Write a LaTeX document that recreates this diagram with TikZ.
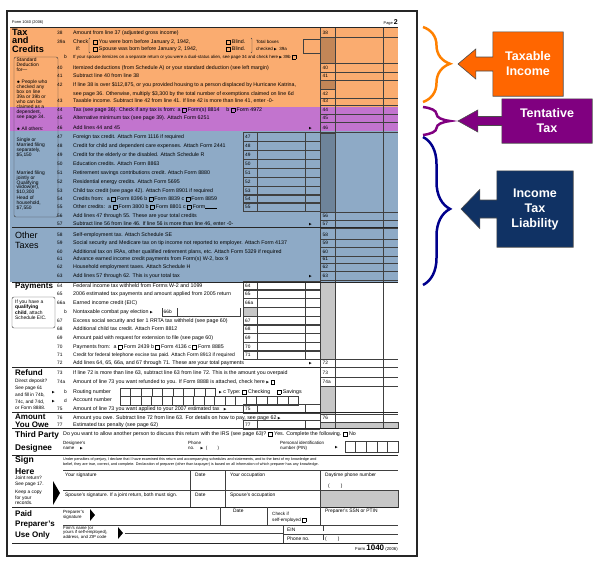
\documentclass[tikz,border=0pt]{standalone}
\usepackage{fontspec}
\setmainfont{Liberation Sans}
\newfontfamily\symfont{DejaVu Sans}
\usetikzlibrary{positioning, calc, backgrounds, decorations.pathreplacing}

\definecolor{overorange}{RGB}{250,172,112}
\definecolor{overpurple}{RGB}{194,116,206}
\definecolor{overblue}{RGB}{142,170,198}
\definecolor{boxorange}{RGB}{255,102,0}
\definecolor{boxpurple}{RGB}{128,0,128}
\definecolor{boxblue}{RGB}{16,50,100}
\definecolor{braceorange}{RGB}{255,128,0}
\definecolor{bracepurple}{RGB}{128,0,128}
\definecolor{braceblue}{RGB}{0,0,140}

\newcommand{\rowfont}{\fontsize{5.3}{6}\selectfont}
\newcommand{\numfont}{\fontsize{4.8}{6}\selectfont}
\newcommand{\notefont}{\fontsize{4.9}{5.5}\selectfont}
\newcommand{\formarrow}{{\symfont\fontsize{3.5}{4}\selectfont ▶}}
\newcommand{\cbx}{\raisebox{-0.4pt}{\setlength{\fboxsep}{0pt}\setlength{\fboxrule}{0.35pt}\fbox{\rule{0pt}{3.6pt}\hspace{3.6pt}}}}
% arrow of a callout: box, tip, head base offset, head half, shaft half, colour
\newcommand{\pointer}[6]{%
  \draw[calloutline, fill=#6] (#1.north west) -- (#1.north east) -- (#1.south east) -- (#1.south west)
    -- ($(#1.west)+(0,#5)$) -- ($(#1.west)+(-#3,#5)$) -- ($(#1.west)+(-#3,#4)$) -- (#2)
    -- ($(#1.west)+(-#3,-#4)$) -- ($(#1.west)+(-#3,-#5)$) -- ($(#1.west)+(0,-#5)$) -- cycle;}

\tikzset{
  row/.style={anchor=west, inner sep=0pt, font=\rowfont, text height=3.8pt, text depth=1.1pt},
  num/.style={anchor=west, inner sep=0pt, font=\numfont, text height=3.5pt, text depth=0.5pt},
  note/.style={anchor=north west, inner sep=0pt, align=left, font=\notefont},
  tiny note/.style={note, font=\fontsize{4.5}{4.8}\selectfont},
  title/.style={anchor=north west, inner sep=0pt, align=left, font=\bfseries\fontsize{8}{9}\selectfont},
  rule/.style={line width=0.45pt, black!75},
  heavy/.style={line width=0.9pt, black!85},
  greycell/.style={fill=black, fill opacity=0.22, draw=black!75, line width=0.45pt},
  callout/.style={text=white, font=\bfseries\fontsize{12.5}{15}\selectfont, align=center, inner sep=0pt},
  calloutline/.style={draw=black!70, line width=0.6pt},
  bracebig/.style={decorate, decoration={brace, amplitude=27pt, aspect=#1}, line width=2.5pt}
}

\begin{document}
\begin{tikzpicture}[x=1pt, y=-1pt]
\useasboundingbox (0,0) rectangle (600,565);

% colour bands over the form
\fill[overorange] (10,27) rectangle (398,107);
\fill[overpurple] (10,107) rectangle (398,131);
\fill[overblue] (10,131) rectangle (398,282);

% shaded cells
\foreach \a/\b/\c/\d in {320/37/335/63, 320/80/335/89, 320/133/335/212, 320/282/335/359,
    243/307/257/316, 320/386/335/414, 320/422/398/428, 320/490/398/507}
  \filldraw[greycell] (\a,\b) rectangle (\c,\d);

% column rules
\foreach \x in {320,335,383} \draw[rule] (\x,28) -- (\x,428);
\foreach \x in {243,257,305} {
  \draw[rule] (\x,133) -- (\x,212);
  \draw[rule] (\x,282) -- (\x,359);
  \draw[rule] (\x,405) -- (\x,412);
  \draw[rule] (\x,421) -- (\x,428);
}
\foreach \y in {63,212,359,414} \draw[rule] (320,\y) -- (398,\y);

% section rules
\draw[heavy] (10,27.5) -- (398,27.5);
\foreach \y in {227,282,367,412,428,455,507,543} \draw[heavy] (12,\y) -- (398,\y);

% header
\node[note, anchor=west, font=\fontsize{3.9}{4}\selectfont] (hform) at (12,22) {Form 1040 (2006)};
\node[note, anchor=east, font=\fontsize{3.9}{4}\selectfont] (hpage) at (398,22) {Page {\fontsize{7}{7}\selectfont\bfseries 2}};

% line numbers of the right column
\foreach \y/\n in {33/38, 68/40, 76/41, 94/42, 101/43, 110/44, 118/45, 128/46, 216/56, 224/57,
    235/58, 243/59, 252/60, 259/61, 267/62, 276/63, 363/72, 373/73, 382/74a, 418/76} {
  \node[num] (r\n) at (322.5,\y) {\n};
  \draw[rule] (320,\y+4.3) -- (398,\y+4.3);
}

% line numbers of the inner column
\foreach \y/\n in {137/47, 146/48, 155/49, 164/50, 173/51, 182/52, 191/53, 199/54, 207/55,
    286/64, 294/65, 303/66a, 321/67, 329/68, 338/69, 347/70, 355/71, 409/75, 425/77} {
  \node[num] (b\n) at (245,\y) {\n};
  \draw[rule] (243,\y-4.3) -- (320,\y-4.3);
  \draw[rule] (243,\y+4.3) -- (320,\y+4.3);
}

% form lines
\foreach \y/\n/\txt in {
  33/38/{Amount from line 37 (adjusted gross income)},
  42/39a/{Check},
  68/40/{Itemized deductions (from Schedule A) or your standard deduction (see left margin)},
  76/41/{Subtract line 40 from line 38},
  85/42/{If line 38 is over \$112,875, or you provided housing to a person displaced by Hurricane Katrina,},
  101/43/{Taxable income. Subtract line 42 from line 41. If line 42 is more than line 41, enter -0-},
  110/44/{Tax (see page 36). Check if any tax is from: a \cbx\ Form(s) 8814 \quad b \cbx\ Form 4972},
  118/45/{Alternative minimum tax (see page 39). Attach Form 6251},
  128/46/{Add lines 44 and 45},
  137/47/{Foreign tax credit. Attach Form 1116 if required},
  146/48/{Credit for child and dependent care expenses. Attach Form 2441},
  155/49/{Credit for the elderly or the disabled. Attach Schedule R},
  164/50/{Education credits. Attach Form 8863},
  173/51/{Retirement savings contributions credit. Attach Form 8880},
  182/52/{Residential energy credits. Attach Form 5695},
  191/53/{Child tax credit (see page 42). Attach Form 8901 if required},
  199/54/{Credits from: \ a \cbx\ Form 8396 b \cbx\ Form 8839 c \cbx\ Form 8859},
  207/55/{Other credits: \ a \cbx\ Form 3800 b \cbx\ Form 8801 c \cbx\ Form\rule[-0.4pt]{12pt}{0.3pt}},
  216/56/{Add lines 47 through 55. These are your total credits},
  224/57/{Subtract line 56 from line 46. If line 56 is more than line 46, enter -0-},
  235/58/{Self-employment tax. Attach Schedule SE},
  243/59/{Social security and Medicare tax on tip income not reported to employer. Attach Form 4137},
  252/60/{Additional tax on IRAs, other qualified retirement plans, etc. Attach Form 5329 if required},
  259/61/{Advance earned income credit payments from Form(s) W-2, box 9},
  267/62/{Household employment taxes. Attach Schedule H},
  276/63/{Add lines 57 through 62. This is your total tax},
  286/64/{Federal income tax withheld from Forms W-2 and 1099},
  294/65/{2006 estimated tax payments and amount applied from 2005 return},
  303/66a/{Earned income credit (EIC)},
  321/67/{Excess social security and tier 1 RRTA tax withheld (see page 60)},
  329/68/{Additional child tax credit. Attach Form 8812},
  338/69/{Amount paid with request for extension to file (see page 60)},
  347/70/{Payments from: \ a \cbx\ Form 2439 b \cbx\ Form 4136 c \cbx\ Form 8885},
  355/71/{\fontsize{5}{6}\selectfont Credit for federal telephone excise tax paid. Attach Form 8913 if required},
  363/72/{Add lines 64, 65, 66a, and 67 through 71. These are your total payments},
  373/73/{If line 72 is more than line 63, subtract line 63 from line 72. This is the amount you overpaid},
  382/74a/{Amount of line 73 you want refunded to you. If Form 8888 is attached, check here \formarrow\ \cbx},
  409/75/{Amount of line 73 you want applied to your 2007 estimated tax \enspace\formarrow},
  418/76/{Amount you owe. Subtract line 72 from line 63. For details on how to pay, see page 62 \formarrow},
  425/77/{Estimated tax penalty (see page 62)}} {
  \node[num] (n\n) at (57,\y) {\n};
  \node[row] (t\n) at (73,\y) {\txt};
}
\foreach \y in {128,224,276,363} \node[num] (a\y) at (309,\y) {\formarrow};

% line 39
\node[row] (t39if) at (76,49) {if:};
\draw[rule] (90,38) -- (89,39) -- (89,52) -- (90,53);
\node[row] (t39you) at (93,42) {\cbx\ You were born before January 2, 1942,};
\node[row] (t39sp) at (93,49) {\cbx\ Spouse was born before January 2, 1942,};
\node[row] (t39bl) at (226,42) {\cbx\ Blind.};
\node[row] (t39bs) at (226,49) {\cbx\ Blind.};
\draw[rule] (251,38) -- (252,39) -- (252,52) -- (251,53);
\node[row, font=\fontsize{4.5}{5}\selectfont] (t39tot) at (256,42) {Total boxes};
\node[row, font=\fontsize{4.5}{5}\selectfont] (t39chk) at (256,49) {checked \formarrow\ \ 39a};
\draw[rule] (303,39) rectangle (320,53);
\node[num] (n39b) at (64,57) {b};
\node[row, font=\fontsize{4.4}{5}\selectfont] (t39b) at (73,57)
  {If your spouse itemizes on a separate return or you were a dual-status alien, see page 34 and check here \formarrow\ 39b \cbx};
\node[row] (t42b) at (73,94) {see page 36. Otherwise, multiply \$3,300 by the total number of exemptions claimed on line 6d};

% line 66b
\node[num] (n66b) at (64,312) {b};
\node[row] (t66b) at (73,312) {Nontaxable combat pay election \formarrow};
\draw[rule] (162,308) -- (162,316) -- (240,316) -- (240,308);
\draw[rule] (177,308) -- (177,316);
\node[num] (b66b) at (163.5,312) {66b};

% lines 74b to 74d
\node[num] (a74b) at (52,392) {\formarrow};
\node[num] (n74b) at (64,392) {b};
\node[row] (t74b) at (73,392) {Routing number};
\foreach \i in {0,...,8} \draw[rule] (120+\i*10.6,388) rectangle ++(10.6,8.5);
\node[row] (t74c) at (219,392) {\formarrow\ c Type: \cbx\ Checking \quad \cbx\ Savings};
\node[num] (a74d) at (52,400.5) {\formarrow};
\node[num] (n74d) at (64,400.5) {d};
\node[row] (t74d) at (73,400.5) {Account number};
\foreach \i in {0,...,16} \draw[rule] (120+\i*10.5,396.5) rectangle ++(10.5,8.5);

% left margin
\node[title, font=\bfseries\fontsize{9.2}{8.8}\selectfont] (ttax) at (12,28.5) {Tax\\and\\Credits};
\draw[rule, rounded corners=2pt] (14,57) rectangle (58,217);
\node[note, font=\fontsize{4.9}{4.9}\selectfont] (stdtop) at (16.5,58) {Standard\\Deduction\\for---};
\node[note, font=\fontsize{4.9}{4.9}\selectfont] (stdpeople) at (16.5,80) {$\bullet$ People who\\checked any\\box on line\\39a or 39b or\\who can be\\claimed as a\\dependent,\\see page 34.};
\node[note, font=\fontsize{4.9}{4.9}\selectfont] (stdall) at (16.5,127) {$\bullet$ All others:};
\node[note, font=\fontsize{4.9}{4.9}\selectfont] (stdsingle) at (16.5,138) {Single or\\Married filing\\separately,\\\$5,150};
\node[note, font=\fontsize{4.9}{4.9}\selectfont] (stdjoint) at (16.5,170.5) {Married filing\\jointly or\\Qualifying\\widow(er),\\\$10,300};
\node[note, font=\fontsize{4.9}{4.9}\selectfont] (stdhead) at (16.5,196) {Head of\\household,\\\$7,550};
\node[title, font=\fontsize{9}{9.8}\selectfont] (tother) at (15,232) {Other\\Taxes};
\node[title] (tpay) at (15,283) {Payments};
\draw[rule, rounded corners=2pt] (12,297) rectangle (55,328);
\node[note] (teic) at (15,299.5) {If you have a\\\textbf{qualifying}\\\textbf{child}, attach\\Schedule EIC.};
\node[title] (tref) at (15,369) {Refund};
\node[note, font=\fontsize{4.8}{6.8}\selectfont] (tdep) at (15,379) {Direct deposit?\\See page 61\\and fill in 74b,\\74c, and 74d,\\or Form 8888.};
\node[title, font=\bfseries\fontsize{8}{7.6}\selectfont] (towe) at (15,414) {Amount\\You Owe};
\node[title, font=\bfseries\fontsize{8.3}{13.5}\selectfont] (tthird) at (15,431) {Third Party\\Designee};
\node[title, font=\bfseries\fontsize{8.6}{12}\selectfont] (tsign) at (15,456) {Sign\\Here};
\node[note, font=\fontsize{4.8}{6}\selectfont] (tjoint) at (15,476) {Joint return?\\See page 17.};
\node[note, font=\fontsize{4.8}{5.5}\selectfont] (tkeep) at (15,490) {Keep a copy\\for your\\records.};
\node[title, font=\bfseries\fontsize{8}{10.5}\selectfont] (tpaid) at (15,510) {Paid\\Preparer's\\Use Only};

% third party designee
\node[row] (t3p) at (63,434) {Do you want to allow another person to discuss this return with the IRS (see page 63)? \cbx\ Yes. Complete the following. \cbx\ No};
\node[tiny note] (tdname) at (63,441.5) {Designee's\\name \quad\formarrow};
\node[tiny note] (tdphone) at (188,441.5) {Phone\\no. \quad\formarrow\ \ ( \qquad )};
\node[tiny note] (tdpin) at (280,441.5) {Personal identification\\number (PIN)};
\node[num] (adpin) at (335,447) {\formarrow};
\foreach \i in {0,...,4} \draw[rule] (345+\i*10.6,441) rectangle ++(10.6,11);

% sign here
\node[note, font=\fontsize{3.75}{4.7}\selectfont] (tperj) at (63,457.5) {Under penalties of perjury, I declare that I have examined this return and accompanying schedules and statements, and to the best of my knowledge and\\belief, they are true, correct, and complete. Declaration of preparer (other than taxpayer) is based on all information of which preparer has any knowledge.};
\draw[rule] (63,470) -- (398,470);
\draw[rule] (63,490) -- (320,490);
\foreach \x in {190,225,320} \draw[rule] (\x,470) -- (\x,507);
\fill[black] (53,481) -- (60,493) -- (53,505) -- cycle;
\node[note] (tsig) at (65,472.5) {Your signature};
\node[note] (tdate) at (195,472.5) {Date};
\node[note] (tocc) at (230,472.5) {Your occupation};
\node[note] (tphone) at (325,472.5) {Daytime phone number};
\node[note] (tparen) at (328,483.5) {( \qquad )};
\node[note] (tssig) at (65,492.5) {Spouse's signature. If a joint return, both must sign.};
\node[note] (tsdate) at (195,492.5) {Date};
\node[note] (tsocc) at (230,492.5) {Spouse's occupation};

% paid preparer
\foreach \x in {220,267,320} \draw[rule] (\x,507) -- (\x,525);
\draw[rule] (63,525) -- (398,525);
\draw[rule] (125,533) -- (283,533);
\draw[rule] (283,534) -- (398,534);
\draw[rule] (283,525) -- (283,543);
\foreach \y in {526,535} \draw[rule] (323,\y) -- (323,\y+5);
\fill[black] (90,509) -- (95,515) -- (90,521) -- cycle;
\fill[black] (118,527) -- (123,533) -- (118,539) -- cycle;
\node[tiny note] (tprep) at (63,510) {Preparer's\\signature};
\node[note] (tpdate) at (233,509) {Date};
\node[tiny note, font=\fontsize{4.6}{6}\selectfont] (tself) at (272,512) {Check if\\self-employed \cbx};
\node[note] (tssn) at (325,509) {Preparer's SSN or PTIN};
\node[note, font=\fontsize{4.3}{4.5}\selectfont] (tfirm) at (63,526) {Firm's name (or\\yours if self-employed),\\address, and ZIP code};
\node[note] (tein) at (287,528) {EIN};
\node[note] (tpno) at (287,537) {Phone no.};
\node[note] (tpparen) at (325,537) {( \qquad )};
\node[note, anchor=east, font=\fontsize{4.3}{5}\selectfont] (tfoot) at (398,548) {Form {\fontsize{8}{8}\selectfont\bfseries 1040} (2006)};

% frame of the page
\draw[line width=1.2pt, black!85] (7,11) rectangle (417,556);

% braces
\draw[bracebig=0.49, braceorange] (423,27) -- (423,102);
\draw[bracebig=0.5, bracepurple] (423,107) -- (423,135);
\draw[bracebig=0.486, braceblue] (423,137) -- (423,285);

% callouts
\node[callout, minimum width=70pt, minimum height=64pt] (taxable) at (528,64) {Taxable\\Income};
\node[callout, minimum width=90pt, minimum height=44pt] (tentative) at (547,121) {Tentative\\Tax};
\node[callout, minimum width=76pt, minimum height=76pt] (liability) at (535,209) {Income\\Tax\\Liability};
\coordinate (taxabletip) at (458,64);
\coordinate (tentativetip) at (458,121);
\coordinate (liabilitytip) at (461,209);
\begin{scope}[on background layer]
\pointer{taxable}{taxabletip}{17}{15}{7}{boxorange}
\pointer{tentative}{tentativetip}{24}{11}{4.5}{boxpurple}
\pointer{liability}{liabilitytip}{17}{19.5}{9}{boxblue}
\end{scope}
\end{tikzpicture}
\end{document}
